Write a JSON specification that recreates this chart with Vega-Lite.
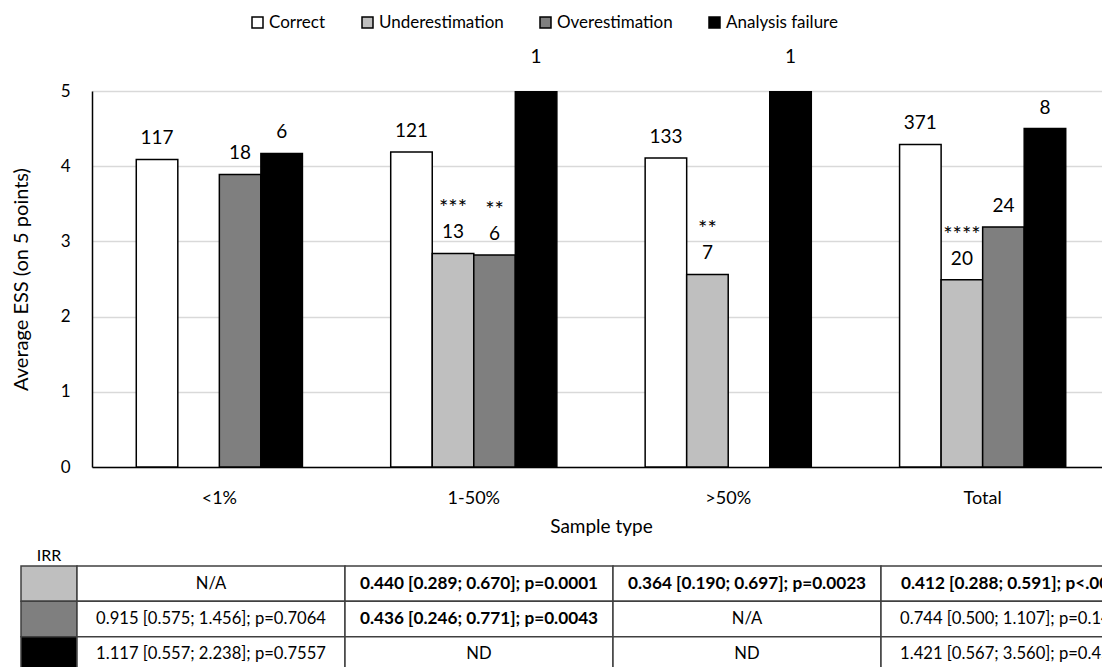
{
  "$schema": "https://vega.github.io/schema/vega-lite/v6.json",
  "padding": {"left": 11, "top": 14, "right": 0, "bottom": 0},
  "background": "white",
  "config": {"view": {"stroke": null}, "font": "Lato", "text": {"color": "black"}},
  "spacing": 12,
  "datasets": {
    "ess": [
      {"type": "<1%", "category": "Correct", "ess": 4.09, "n": 117, "stars": null},
      {"type": "<1%", "category": "Overestimation", "ess": 3.89, "n": 18, "stars": null},
      {"type": "<1%", "category": "Analysis failure", "ess": 4.17, "n": 6, "stars": null},
      {"type": "1-50%", "category": "Correct", "ess": 4.19, "n": 121, "stars": null},
      {"type": "1-50%", "category": "Underestimation", "ess": 2.84, "n": 13, "stars": "***"},
      {"type": "1-50%", "category": "Overestimation", "ess": 2.82, "n": 6, "stars": "**"},
      {"type": "1-50%", "category": "Analysis failure", "ess": 5.0, "n": 1, "stars": null},
      {"type": ">50%", "category": "Correct", "ess": 4.11, "n": 133, "stars": null},
      {"type": ">50%", "category": "Underestimation", "ess": 2.56, "n": 7, "stars": "**"},
      {"type": ">50%", "category": "Analysis failure", "ess": 5.0, "n": 1, "stars": null},
      {"type": "Total", "category": "Correct", "ess": 4.29, "n": 371, "stars": null},
      {"type": "Total", "category": "Underestimation", "ess": 2.49, "n": 20, "stars": "****"},
      {"type": "Total", "category": "Overestimation", "ess": 3.19, "n": 24, "stars": null},
      {"type": "Total", "category": "Analysis failure", "ess": 4.5, "n": 8, "stars": null}
    ],
    "irr": [
      {"row": "Underestimation", "col": "<1%", "txt": "N/A", "p": null},
      {"row": "Underestimation", "col": "1-50%", "txt": "0.440 [0.289; 0.670]; p=0.0001", "p": 0.0001},
      {"row": "Underestimation", "col": ">50%", "txt": "0.364 [0.190; 0.697]; p=0.0023", "p": 0.0023},
      {"row": "Underestimation", "col": "Total", "txt": "0.412 [0.288; 0.591]; p<.0001", "p": 0.0001},
      {"row": "Overestimation", "col": "<1%", "txt": "0.915 [0.575; 1.456]; p=0.7064", "p": 0.7064},
      {"row": "Overestimation", "col": "1-50%", "txt": "0.436 [0.246; 0.771]; p=0.0043", "p": 0.0043},
      {"row": "Overestimation", "col": ">50%", "txt": "N/A", "p": null},
      {"row": "Overestimation", "col": "Total", "txt": "0.744 [0.500; 1.107]; p=0.1430", "p": 0.143},
      {"row": "Analysis failure", "col": "<1%", "txt": "1.117 [0.557; 2.238]; p=0.7557", "p": 0.7557},
      {"row": "Analysis failure", "col": "1-50%", "txt": "ND", "p": null},
      {"row": "Analysis failure", "col": ">50%", "txt": "ND", "p": null},
      {"row": "Analysis failure", "col": "Total", "txt": "1.421 [0.567; 3.560]; p=0.4540", "p": 0.454}
    ]
  },
  "vconcat": [
    {
      "width": 1089,
      "height": 376,
      "data": {"name": "ess"},
      "encoding": {
        "x": {
          "field": "type", "type": "nominal",
          "sort": ["<1%", "1-50%", ">50%", "Total"],
          "scale": {"range": [71, 1089], "paddingInner": 0.347, "paddingOuter": 0.174},
          "axis": {
            "labelAngle": 0, "ticks": false, "domainColor": "black", "domainWidth": 1.5,
            "labelFontSize": 18, "labelPadding": 22, "labelColor": "black",
            "title": "Sample type", "titleFontSize": 19, "titleFontWeight": "normal",
            "titlePadding": 10, "titleColor": "black"
          }
        },
        "xOffset": {
          "field": "category", "type": "nominal",
          "sort": ["Correct", "Underestimation", "Overestimation", "Analysis failure"],
          "scale": {"domain": ["Correct", "Underestimation", "Overestimation", "Analysis failure"], "paddingInner": 0, "paddingOuter": 0}
        },
        "y": {
          "field": "ess", "type": "quantitative",
          "scale": {"domain": [0, 5]},
          "axis": {
            "offset": -71,
            "values": [0, 1, 2, 3, 4, 5], "grid": true, "gridColor": "#d9d9d9", "gridWidth": 1.5,
            "domain": true, "domainColor": "black", "domainWidth": 1.5, "ticks": false,
            "labelPadding": 22, "labelFontSize": 17, "labelColor": "black",
            "title": "Average ESS (on 5 points)", "titleFontSize": 20, "titleFontWeight": "normal",
            "titlePadding": 29, "titleColor": "black"
          }
        }
      },
      "layer": [
        {
          "mark": {"type": "bar", "stroke": "black", "strokeWidth": 1.5, "clip": true},
          "encoding": {
            "color": {
              "field": "category", "type": "nominal",
              "scale": {
                "domain": ["Correct", "Underestimation", "Overestimation", "Analysis failure"],
                "range": ["#ffffff", "#bfbfbf", "#7f7f7f", "#000000"]
              },
              "legend": {
                "title": null, "orient": "none", "direction": "horizontal",
                "legendX": 228, "legendY": -77, "padding": 0,
                "symbolType": "square", "symbolSize": 121, "symbolStrokeColor": "black",
                "symbolStrokeWidth": 1.5, "symbolOpacity": 1,
                "labelFontSize": 17, "labelColor": "black", "labelOffset": 3,
                "columnPadding": 33
              }
            }
          }
        },
        {
          "transform": [{"filter": "datum.ess < 5"}],
          "mark": {"type": "text", "dy": -21, "fontSize": 19, "baseline": "middle"},
          "encoding": {"text": {"field": "n", "type": "quantitative"}}
        },
        {
          "transform": [{"filter": "datum.ess >= 5"}],
          "mark": {"type": "text", "dy": -34, "fontSize": 19, "baseline": "middle"},
          "encoding": {"text": {"field": "n", "type": "quantitative"}}
        },
        {
          "transform": [{"filter": "datum.stars != null"}],
          "mark": {"type": "text", "dy": -45, "fontSize": 22, "baseline": "middle"},
          "encoding": {"text": {"field": "stars", "type": "nominal"}}
        }
      ]
    },
    {
      "spacing": 0,
      "bounds": "flush",
      "hconcat": [
        {
          "width": 56,
          "height": 106,
          "data": {"name": "irr"},
          "transform": [{"filter": "datum.col == '<1%'"}],
          "title": {"text": "IRR", "fontSize": 16, "fontWeight": "normal", "anchor": "middle", "offset": 1, "color": "black"},
          "mark": {"type": "rect", "stroke": "#404040", "strokeWidth": 1.5},
          "encoding": {
            "x": {"value": 0},
            "x2": {"value": "width"},
            "y": {
              "field": "row", "type": "nominal",
              "sort": ["Underestimation", "Overestimation", "Analysis failure"],
              "scale": {"paddingInner": 0, "paddingOuter": 0},
              "axis": null
            },
            "fill": {
              "field": "row", "type": "nominal",
              "scale": {"domain": ["Underestimation", "Overestimation", "Analysis failure"], "range": ["#bfbfbf", "#7f7f7f", "#000000"]},
              "legend": null
            }
          }
        },
        {
          "width": 1072,
          "height": 106,
          "data": {"name": "irr"},
          "encoding": {
            "x": {
              "field": "col", "type": "nominal",
              "sort": ["<1%", "1-50%", ">50%", "Total"],
              "scale": {"paddingInner": 0, "paddingOuter": 0},
              "axis": null
            },
            "y": {
              "field": "row", "type": "nominal",
              "sort": ["Underestimation", "Overestimation", "Analysis failure"],
              "scale": {"paddingInner": 0, "paddingOuter": 0},
              "axis": null
            }
          },
          "layer": [
            {"mark": {"type": "rect", "fill": "white", "stroke": "#404040", "strokeWidth": 1.5}},
            {
              "transform": [{"filter": "datum.p == null || datum.p >= 0.05"}],
              "mark": {"type": "text", "fontSize": 16.6, "color": "black"},
              "encoding": {"text": {"field": "txt", "type": "nominal"}}
            },
            {
              "transform": [{"filter": "datum.p != null && datum.p < 0.05"}],
              "mark": {"type": "text", "fontSize": 17.2, "fontWeight": "bold", "color": "black"},
              "encoding": {"text": {"field": "txt", "type": "nominal"}}
            }
          ]
        }
      ]
    }
  ]
}
